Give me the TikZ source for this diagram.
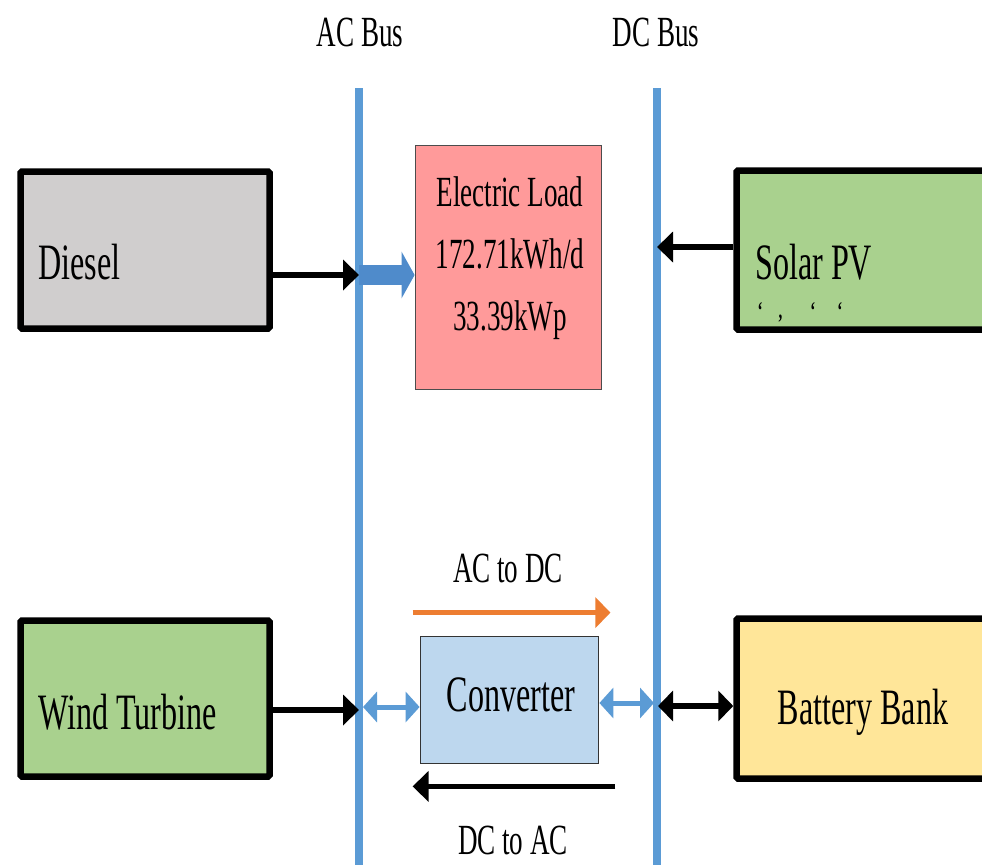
\documentclass[tikz,border=0pt]{standalone}
\usepackage{fontspec}
\setmainfont{Liberation Serif}[FakeStretch=0.63]
\usetikzlibrary{arrows.meta}
\definecolor{busblue}{HTML}{5B9BD5}
\definecolor{fatblue}{HTML}{4F8BCB}
\definecolor{dieselgray}{HTML}{D0CECE}
\definecolor{loadpink}{HTML}{FF9A9A}
\definecolor{pvgreen}{HTML}{A9D18E}
\definecolor{convblue}{HTML}{BDD7EE}
\definecolor{battyellow}{HTML}{FFE699}
\definecolor{convorange}{HTML}{ED7D31}
\tikzset{
  bus/.style={busblue, line width=8pt},
  bigbox/.style={draw=black, line width=6.5pt, rounded corners=1.5pt, inner sep=0pt},
  thinbox/.style={draw=black!80, line width=1.8pt, inner sep=0pt},
  biglbl/.style={font=\fontsize{51}{60}\selectfont, inner sep=0pt},
  smalllbl/.style={font=\fontsize{43}{62}\selectfont, inner sep=0pt},
  blackarr/.style={black, line width=5.5pt, -{Triangle[length=16pt,width=30pt]}},
  blackdbl/.style={black, line width=5.5pt, {Triangle[length=15pt,width=30pt]}-{Triangle[length=15pt,width=30pt]}},
  bluedbl/.style={busblue, line width=5pt, {Triangle[length=14pt,width=30pt]}-{Triangle[length=14pt,width=30pt]}},
  fatarr/.style={fatblue, line width=20pt, -{Triangle[length=13pt,width=46pt]}},
  orangearr/.style={convorange, line width=5pt, -{Triangle[length=15pt,width=30pt]}},
}
\begin{document}
\begin{tikzpicture}[x=1pt,y=-1pt]
\clip (0,0) rectangle (982,865);
\fill[white] (0,0) rectangle (982,865);
% buses
\coordinate (acT) at (359,88); \coordinate (acB) at (359,865);
\coordinate (dcT) at (657,88); \coordinate (dcB) at (657,865);
\draw[bus] (acT) -- (acB);
\draw[bus] (dcT) -- (dcB);
\node[smalllbl] (aclbl) at (360,32) {AC Bus};
\node[smalllbl] (dclbl) at (656,32) {DC Bus};
% boxes
\node[bigbox, fill=dieselgray, minimum width=249pt, minimum height=157pt] (diesel) at (145,250) {};
\node[biglbl, anchor=west] (dieseltxt) at (38,262) {Diesel};
\node[thinbox, draw=black!70, fill=loadpink, minimum width=186pt, minimum height=244pt] (load) at (508.5,267.5) {};
\node[smalllbl, align=center] (loadtxt) at (510,258) {Electric Load\\172.71kWh/d\\33.39kWp};
\node[bigbox, fill=pvgreen, minimum width=260pt, minimum height=159pt] (solar) at (866.5,250) {};
\node[biglbl, anchor=west] (solartxt) at (755,262) {Solar PV};
\node[font=\fontsize{24}{24}\selectfont\bfseries, inner sep=0pt] (solardots) at (800,312) {`\hspace{16pt},\hspace{28pt}`\hspace{22pt}`};
\node[bigbox, fill=pvgreen, minimum width=249pt, minimum height=156pt] (wind) at (145,698.5) {};
\node[biglbl, anchor=west] (windtxt) at (38,712) {Wind Turbine};
\node[thinbox, fill=convblue, minimum width=178pt, minimum height=127pt] (conv) at (509.5,700) {};
\node[biglbl] (convtxt) at (511,695) {Converter};
\node[bigbox, fill=battyellow, minimum width=260pt, minimum height=160pt] (batt) at (866.5,698.5) {};
\node[biglbl] (batttxt) at (863,712) {Battery Bank};
% connectors
\draw[blackarr] ([yshift=-25pt]diesel.east) -- ([yshift=-25pt]diesel.east -| acT);
\draw[fatarr] ([yshift=-7.5pt]load.west -| acT) -- ([yshift=-7.5pt]load.west);
\draw[blackarr] ([yshift=3pt]solar.west) -- ([yshift=3pt]solar.west -| dcT);
\draw[blackarr] ([yshift=-11.5pt]wind.east) -- ([yshift=-11.5pt]wind.east -| acT);
\draw[bluedbl, shorten <=4pt] ([yshift=-7pt]conv.west -| acT) -- ([yshift=-7pt]conv.west);
\draw[bluedbl, shorten >=3pt] ([yshift=-3pt]conv.east) -- ([yshift=-3pt]conv.east -| dcT);
\draw[blackdbl, shorten <=1pt] ([yshift=-7.5pt]batt.west -| dcT) -- ([yshift=-7.5pt]batt.west);
\draw[orangearr] ([shift={(-7,-23)}]conv.north west) -- ([shift={(11,-23)}]conv.north east);
\draw[blackarr] ([shift={(16,22)}]conv.south east) -- ([shift={(-7,22)}]conv.south west);
\node[smalllbl] (ac2dc) at (508,568) {AC to DC};
\node[smalllbl] (dc2ac) at (513,840) {DC to AC};
\end{tikzpicture}
\end{document}
